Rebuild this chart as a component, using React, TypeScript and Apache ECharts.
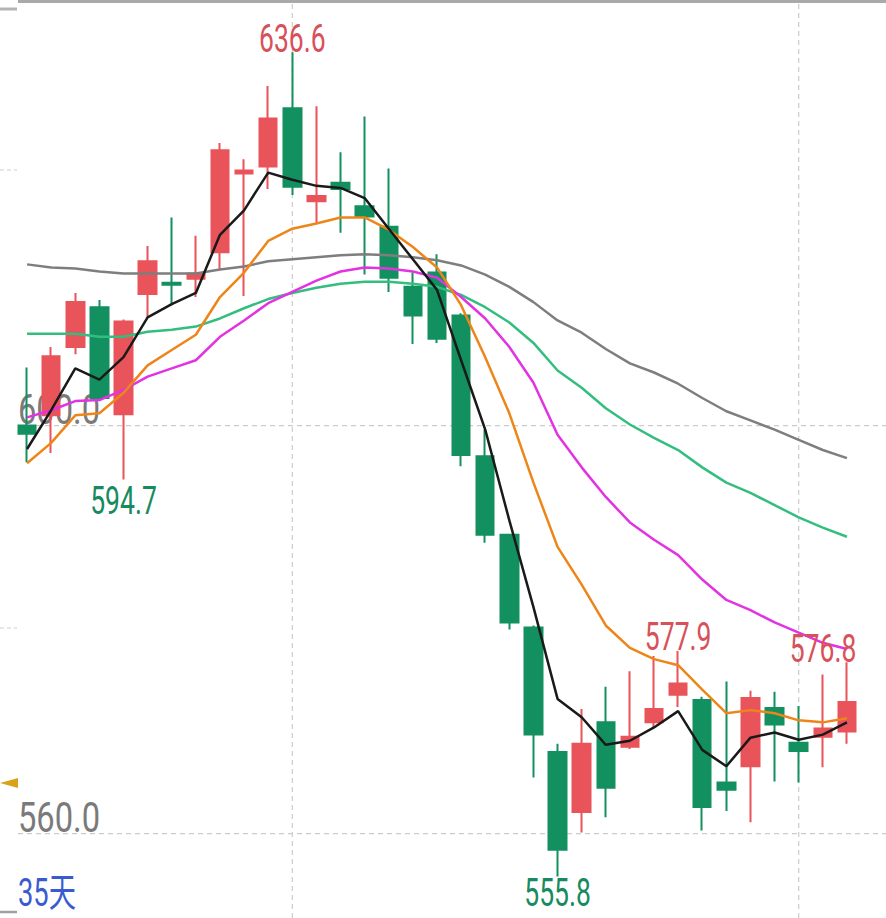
import React, { useEffect, useRef } from 'react';
import * as echarts from 'echarts';

const categories = ['1', '2', '3', '4', '5', '6', '7', '8', '9', '10', '11', '12', '13', '14', '15', '16', '17', '18', '19', '20', '21', '22', '23', '24', '25', '26', '27', '28', '29', '30', '31', '32', '33', '34', '35'];

const opens = [600.0, 601.0, 607.7, 611.6, 601.1, 612.9, 614.0, 614.4, 617.0, 624.7, 625.4, 631.1, 622.0, 623.8, 621.5, 619.5, 613.6, 615.0, 610.8, 597.0, 589.3, 580.2, 568.0, 562.1, 570.9, 568.5, 570.9, 573.6, 573.1, 565.0, 566.6, 572.3, 568.9, 569.5, 570.0];
const closes = [599.2, 606.8, 612.1, 602.7, 610.2, 616.1, 613.8, 614.9, 627.0, 625.0, 630.1, 623.4, 622.5, 623.2, 620.5, 614.5, 610.8, 608.5, 597.1, 589.3, 580.7, 569.7, 558.4, 568.8, 564.5, 569.5, 572.2, 574.7, 562.6, 564.3, 573.3, 570.7, 568.1, 570.3, 572.9];
const lows = [596.4, 597.3, 607.0, 602.6, 594.7, 610.6, 611.8, 612.6, 615.3, 612.7, 623.2, 622.6, 619.8, 618.9, 614.8, 613.1, 608.0, 608.1, 596.0, 588.5, 580.0, 565.5, 555.8, 560.1, 561.6, 568.3, 570.4, 572.4, 560.3, 562.2, 561.1, 565.1, 565.0, 566.5, 568.8];
const highs = [605.7, 607.7, 613.0, 612.3, 610.4, 617.6, 620.4, 618.6, 627.7, 626.1, 633.3, 636.6, 631.3, 626.8, 630.3, 625.2, 615.0, 616.8, 611.0, 599.6, 589.4, 580.4, 568.8, 572.2, 574.4, 575.9, 577.4, 577.9, 573.4, 574.9, 574.0, 573.9, 572.5, 575.6, 576.8];

const ma5 = [597.7, 601.5, 605.6, 604.5, 606.7, 610.6, 611.9, 613.0, 618.7, 621.1, 624.8, 624.1, 623.5, 623.3, 622.3, 619.3, 616.3, 613.3, 606.4, 599.6, 590.7, 582.2, 573.2, 571.4, 568.7, 569.1, 570.4, 572.0, 568.2, 566.6, 569.4, 569.9, 569.2, 569.7, 570.9];
const ma10 = [596.3, 598.3, 601.0, 601.2, 603.2, 605.9, 607.4, 608.9, 612.6, 615.0, 618.1, 619.3, 619.8, 620.4, 620.4, 619.2, 617.5, 615.5, 611.8, 606.7, 601.2, 594.4, 588.1, 584.4, 580.4, 578.2, 577.1, 576.5, 574.1, 571.8, 572.1, 571.8, 571.1, 570.9, 571.3];
const ma20 = [600.8, 601.5, 602.4, 602.5, 603.5, 604.8, 605.6, 606.4, 608.7, 610.3, 612.0, 613.1, 614.2, 615.1, 615.5, 615.4, 615.1, 614.5, 612.6, 610.5, 607.7, 604.2, 599.1, 595.9, 593.0, 590.5, 588.8, 587.3, 584.9, 582.9, 581.9, 580.7, 579.7, 578.7, 578.1];
const ma30 = [609.0, 609.0, 609.0, 608.7, 608.7, 609.2, 609.4, 609.7, 610.5, 611.5, 612.4, 613.0, 613.5, 613.9, 614.1, 614.1, 613.9, 613.6, 612.8, 611.6, 610.1, 608.1, 605.4, 603.7, 601.7, 600.1, 598.8, 597.6, 595.9, 594.4, 593.4, 592.2, 591.0, 590.0, 589.1];
const ma60 = [615.8, 615.5, 615.4, 615.1, 614.9, 614.9, 614.9, 614.9, 615.3, 615.6, 616.1, 616.3, 616.5, 616.7, 616.8, 616.7, 616.5, 616.2, 615.7, 614.8, 613.6, 612.1, 610.3, 609.1, 607.5, 606.1, 605.2, 604.1, 602.7, 601.4, 600.5, 599.6, 598.6, 597.6, 596.8];

const yTickValues = [600, 560];
const yTickLabels = ['600.0', '560.0'];
const verticalGridIndexes = [11, 32];
// extreme labels: candle index and which end
const extremeIndexes = [11, 4, 22, 27, 34];
const extremeKinds = ['high', 'low', 'low', 'high', 'high'];
const periodLabel = '35天';

const UP = '#E9535A';
const DOWN = '#12905F';
const UP_TEXT = '#D8515A';
const DOWN_TEXT = '#178A60';

export default function App() {
  const ref = useRef<HTMLDivElement>(null);

  useEffect(() => {
    const chart = echarts.init(ref.current!, null, { renderer: 'svg' });
    const candleData = categories.map((_, i) => [opens[i], closes[i], lows[i], highs[i]]);
    const lines = [
      { name: 'MA60', data: ma60, color: '#7E7E7E' },
      { name: 'MA30', data: ma30, color: '#33BE80' },
      { name: 'MA20', data: ma20, color: '#E232E2' },
      { name: 'MA10', data: ma10, color: '#EE8519' },
      { name: 'MA5', data: ma5, color: '#1A1A1A' },
    ];
    const bandW = 24.114;
    const gridLeft = 15;
    const gridWidth = bandW * categories.length;
    const H = 918;
    chart.setOption({
      animation: false,
      backgroundColor: '#ffffff',
      grid: { left: gridLeft, top: 0, width: gridWidth, height: H, containLabel: false },
      xAxis: {
        type: 'category',
        data: categories,
        boundaryGap: true,
        axisLine: { show: false },
        axisTick: { show: false },
        axisLabel: { show: false },
        splitLine: { show: false },
      },
      yAxis: {
        type: 'value',
        min: 551.72,
        max: 641.72,
        axisLine: { show: false },
        axisTick: { show: false },
        axisLabel: { show: false },
        splitLine: { show: false },
      },
      series: [
        {
          type: 'candlestick',
          data: candleData,
          barWidth: 18,
          z: 3,
          itemStyle: {
            color: UP,
            color0: DOWN,
            borderColor: UP,
            borderColor0: DOWN,
            borderWidth: 2,
          },
        },
        ...lines.map((l, k) => ({
          type: 'line',
          name: l.name,
          data: l.data,
          showSymbol: false,
          symbol: 'none',
          z: 4 + k,
          lineStyle: { color: l.color, width: 2.5 },
        })),
      ],
    });

    const px = (i: number, v: number) => chart.convertToPixel({ gridIndex: 0 }, [i, v]) as number[];
    const gridRight = gridLeft + gridWidth;
    const font = 'Roboto, "Noto Sans", sans-serif';
    const elements: any[] = [];

    // frame bits
    elements.push({ type: 'line', z: 0, shape: { x1: 18, y1: 1.5, x2: 886, y2: 1.5 }, style: { stroke: '#A9A9A9', lineWidth: 3 } });
    elements.push({ type: 'line', z: 0, shape: { x1: 0, y1: 9, x2: 17, y2: 9 }, style: { stroke: '#B4B4B4', lineWidth: 3 } });
    elements.push({ type: 'line', z: 0, shape: { x1: 0, y1: 170, x2: 17, y2: 170 }, style: { stroke: '#CFCFCF', lineWidth: 1.2, lineDash: [4, 3] } });
    elements.push({ type: 'line', z: 0, shape: { x1: 0, y1: 628, x2: 17, y2: 628 }, style: { stroke: '#CFCFCF', lineWidth: 1.2, lineDash: [4, 3] } });
    elements.push({ type: 'line', z: 0, shape: { x1: 0, y1: 912, x2: 17, y2: 912 }, style: { stroke: '#A0A0A0', lineWidth: 2.5 } });
    elements.push({ type: 'polygon', z: 0, shape: { points: [[0, 783], [18, 778], [18, 788]] }, style: { fill: '#D9A21B' } });

    // horizontal gridlines + labels
    yTickValues.forEach((v, k) => {
      const y = px(0, v)[1];
      elements.push({ type: 'line', z: 0, shape: { x1: 18, y1: y, x2: 886, y2: y }, style: { stroke: '#CCCCCC', lineWidth: 1.2, lineDash: [5, 4] } });
      elements.push({
        type: 'text', z: 1, x: 18, y: y - 16.5, scaleX: 0.76,
        style: { text: yTickLabels[k], x: 0, y: 0, fill: '#7A7A7A', fontSize: 43, lineHeight: 34, fontFamily: font, align: 'left', verticalAlign: 'middle' },
      });
    });

    // vertical gridlines
    verticalGridIndexes.forEach((i) => {
      const x = px(i, 600)[0];
      elements.push({ type: 'line', z: 0, shape: { x1: x, y1: 4, x2: x, y2: H }, style: { stroke: '#CCCCCC', lineWidth: 1.2, lineDash: [5, 4] } });
    });

    // extreme labels
    extremeIndexes.forEach((i, k) => {
      const isHigh = extremeKinds[k] === 'high';
      const v = isHigh ? highs[i] : lows[i];
      const p = px(i, v);
      const halfW = 34;
      const cx = Math.min(p[0], gridRight - 2 - halfW);
      const cy = isHigh ? p[1] - 14 : Math.min(p[1] + 21, H - 25);
      elements.push({
        type: 'text', z: 10, x: cx, y: cy, scaleX: 0.68,
        style: { text: v.toFixed(1), x: 0, y: 0, fill: isHigh ? UP_TEXT : DOWN_TEXT, fontSize: 39, lineHeight: 30, fontFamily: font, align: 'center', verticalAlign: 'middle' },
      });
    });

    elements.push({
      type: 'text', z: 10, x: 18, y: 893, scaleX: 0.7,
      style: { text: periodLabel, x: 0, y: 0, fill: '#3A5BD0', fontSize: 39, lineHeight: 32, fontFamily: 'Roboto, "Noto Sans CJK SC", sans-serif', align: 'left', verticalAlign: 'middle' },
    });

    chart.setOption({ graphic: elements });

    return () => chart.dispose();
  }, []);

  return (
    <div
      ref={ref}
      style={{ position: 'absolute', left: 0, top: 0, width: 886, height: 918, background: '#ffffff' }}
    />
  );
}
